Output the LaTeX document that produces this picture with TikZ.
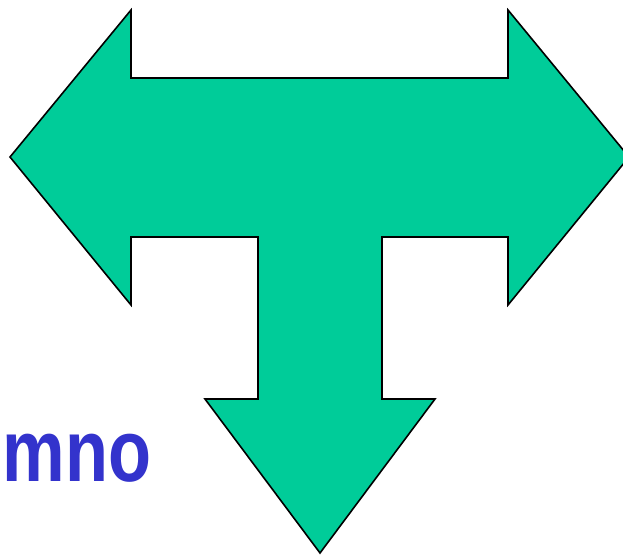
\documentclass[tikz,border=0pt]{standalone}
\usepackage{fontspec}
\setmainfont{Liberation Sans}
\usetikzlibrary{positioning}
\definecolor{tGreen}{RGB}{0,204,153}
\definecolor{tBlue}{RGB}{51,51,204}

\begin{document}
\begin{tikzpicture}[
    x=1pt, y=-1pt,
    arrow shape/.style={fill=tGreen, draw=black, line width=1.6pt, line join=miter},
    label text/.style={font=\fontsize{88}{88}\selectfont\bfseries, text=tBlue, inner sep=0pt, anchor=base west}
]
  \useasboundingbox (0,0) rectangle (623,554);
  \begin{scope}
    \clip (0,0) rectangle (623,554);
    % T shaped three-way arrow
    \draw[arrow shape] (10,157) -- (131,10) -- (131,78) -- (508,78) -- (508,10)
      -- (629,157) -- (508,305) -- (508,237) -- (382,237) -- (382,399)
      -- (435,399) -- (320,553) -- (205,399) -- (258,399) -- (258,237)
      -- (131,237) -- (131,305) -- cycle;
  \end{scope}
  \node[label text] (mno) at (2.5,481) {\scalebox{0.8}[1]{mno}};
\end{tikzpicture}
\end{document}
